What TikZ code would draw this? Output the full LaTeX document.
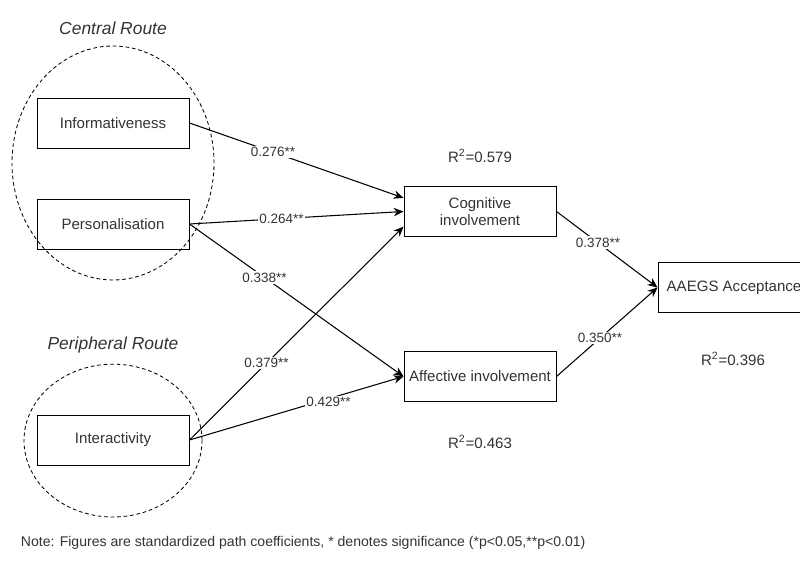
\documentclass[tikz,border=0pt]{standalone}
\usepackage{fontspec}
\setmainfont{Liberation Sans}
\usetikzlibrary{arrows.meta}
\definecolor{ink}{HTML}{333333}

\tikzset{
  construct/.style={draw,line width=0.7pt,minimum width=3.8cm,minimum height=1.25cm,align=center,text=ink,font=\fontsize{10.7}{12}\selectfont},
  route/.style={line width=0.6pt,dash pattern=on 2.6pt off 2pt},
  path/.style={line width=0.75pt,-{Stealth[length=7pt,width=6pt]}},
  coef/.style={fill=white,inner sep=1pt,text=ink,font=\fontsize{9.6}{11}\selectfont},
  rsq/.style={text=ink,font=\fontsize{10.7}{12}\selectfont}
}

\begin{document}
\begin{tikzpicture}
  \useasboundingbox (0,0) rectangle (20,14.175);
  % routes
  \draw[route] (2.825,10.1) ellipse (2.525 and 2.925);
  \draw[route] (2.825,3.16) ellipse (2.225 and 1.91);
  \node[text=ink,font=\fontsize{12.4}{14}\selectfont\itshape] (central) at (2.825,13.475) {Central Route};
  \node[text=ink,font=\fontsize{12.4}{14}\selectfont\itshape] (peripheral) at (2.825,5.55) {Peripheral Route};
  % constructs
  \node[construct] (info) at (2.825,11.1) {Informativeness};
  \node[construct] (pers) at (2.825,8.575) {Personalisation};
  \node[construct] (inter) at (2.825,3.175) {Interactivity};
  \node[construct] (cog) at (12.0,8.8875) {Cognitive\\involvement};
  \node[construct] (aff) at (12.0,4.7625) {Affective involvement};
  \node[construct] (acc) at (18.35,6.9875) {AAEGS Acceptance};
  % explained variance
  \node[rsq] (rcog) at (12.0,10.275) {R\textsuperscript{2}=0.579};
  \node[rsq] (raff) at (12.0,3.125) {R\textsuperscript{2}=0.463};
  \node[rsq] (racc) at (18.325,5.2) {R\textsuperscript{2}=0.396};
  % paths
  \draw[path] (info.east) -- ([yshift=0.34cm]cog.west) node[coef,pos=0.39] {0.276**};
  \draw[path] (pers.east) -- (cog.west) node[coef,pos=0.43] {0.264**};
  \draw[path] (pers.east) -- (aff.west) node[coef,pos=0.35] {0.338**};
  \draw[path] (inter.east) -- ([yshift=-0.38cm]cog.west) node[coef,pos=0.36] {0.379**};
  \draw[path] (inter.east) -- (aff.west) node[coef,pos=0.65,yshift=-0.08cm] {0.429**};
  \draw[path] (cog.east) -- (acc.west) node[coef,pos=0.41] {0.378**};
  \draw[path] (aff.east) -- (acc.west) node[coef,pos=0.43] {0.350**};
  % note
  \node[anchor=west,text=ink,font=\fontsize{10}{12}\selectfont] (note) at (0.4,0.6)
       {Note: Figures are standardized path coefficients, * denotes significance (*p<0.05,**p<0.01)};
\end{tikzpicture}
\end{document}
